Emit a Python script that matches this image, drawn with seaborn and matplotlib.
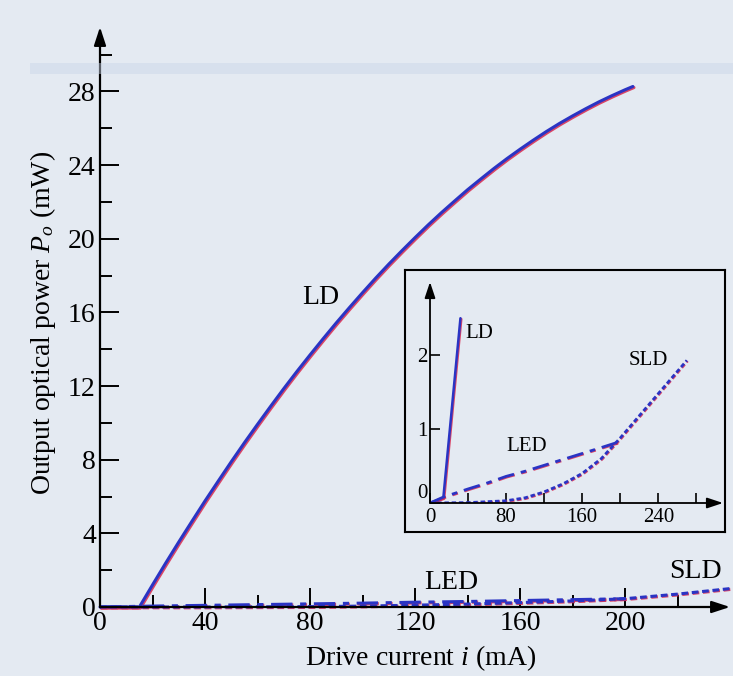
import matplotlib
matplotlib.use("Agg")
import matplotlib.pyplot as plt
import matplotlib.patheffects as pe
from matplotlib.patches import Rectangle
import seaborn as sns

# ---------------- data ----------------
# Main plot
ld_i = [0, 15, 20, 25, 30, 35, 40, 45, 50, 55, 60, 65, 70, 75, 80, 85, 90, 95,
        100, 105, 110, 115, 120, 125, 130, 135, 140, 145, 150, 155, 160, 165,
        170, 175, 180, 185, 190, 195, 200, 203]
ld_p = [0, 0, 1.20, 2.38, 3.53, 4.65, 5.76, 6.83, 7.89, 8.92, 9.92, 10.90,
        11.86, 12.79, 13.69, 14.57, 15.43, 16.26, 17.07, 17.86, 18.62, 19.35,
        20.06, 20.75, 21.41, 22.04, 22.66, 23.24, 23.81, 24.35, 24.86, 25.35,
        25.82, 26.26, 26.67, 27.06, 27.43, 27.77, 28.09, 28.27]
led_i = [0, 20, 40, 60, 80, 100, 120, 140, 160, 180, 200]
led_p = [0, 0.05, 0.09, 0.13, 0.17, 0.21, 0.26, 0.30, 0.35, 0.40, 0.45]
sld_i = [0, 40, 80, 100, 120, 140, 160, 180, 200, 220, 240]
sld_p = [0, 0.0, 0.02, 0.05, 0.10, 0.16, 0.24, 0.33, 0.45, 0.70, 1.0]

# Inset
in_ld_i = [0, 14, 32]
in_ld_p = [0, 0.07, 2.5]
in_led_i = [0, 14, 40, 60, 80, 100, 120, 140, 160, 180, 197]
in_led_p = [0, 0.08, 0.19, 0.27, 0.36, 0.43, 0.51, 0.59, 0.67, 0.75, 0.82]
in_sld_i = [0, 40, 80, 100, 120, 140, 160, 180, 200, 220, 240, 260, 270]
in_sld_p = [0, 0.005, 0.03, 0.07, 0.15, 0.26, 0.40, 0.60, 0.88, 1.18, 1.48,
            1.78, 1.93]

main_xticks = [0, 40, 80, 120, 160, 200]
main_xminor = [20, 60, 100, 140, 180, 220]
main_yticks = [0, 4, 8, 12, 16, 20, 24, 28]
main_yminor = [2, 6, 10, 14, 18, 22, 26, 30]
inset_xticks = [0, 80, 160, 240]
inset_xminor = [40, 120, 200, 280]
inset_yticks = [0, 1, 2]

# ---------------- style ----------------
sns.set_theme(style="white")
plt.rcParams["font.family"] = ["Liberation Serif", "DejaVu Serif"]
plt.rcParams["mathtext.fontset"] = "custom"
plt.rcParams["mathtext.rm"] = "Liberation Serif"
plt.rcParams["mathtext.it"] = "Liberation Serif:italic"

BG = "#e4eaf2"
LINE = "#2a34c4"
FRINGE = "#d8284e"

W, H = 733, 676
fig = plt.figure(figsize=(W / 100, H / 100), dpi=100, facecolor=BG)

# faint scan band near the top
fig.patches.append(Rectangle((30 / W, 1 - 74 / H), 1, 11 / H, transform=fig.transFigure,
                             facecolor="#c8d5e8", edgecolor="none", alpha=0.45, zorder=0))


def fx(px):
    return px / W


def fy(py):
    return 1 - py / H


def fringe(line, off=0.7):
    line.set_path_effects([pe.SimpleLineShadow(offset=(off, -off),
                                               shadow_color=FRINGE, alpha=0.85, rho=1.0),
                           pe.Normal()])


def arrow_axes(ax, lw, scale, hl, hw):
    style = f"-|>,head_length={hl},head_width={hw}"
    for xy in [(1, 0), (0, 1)]:
        ax.annotate("", xy=xy, xytext=(0, 0), xycoords="axes fraction",
                    textcoords="axes fraction",
                    arrowprops=dict(arrowstyle=style, color="black", lw=lw,
                                    mutation_scale=scale, shrinkA=0, shrinkB=0),
                    annotation_clip=False, zorder=5)


# ---------------- main axes ----------------
ax = fig.add_axes([fx(100), fy(607), (730 - 100) / W, (607 - 27) / H])
ax.set_facecolor("none")
ax.set_xlim(0, 240)
ax.set_ylim(0, 31.5)
for s in ax.spines.values():
    s.set_visible(False)

sns.lineplot(x=ld_i, y=ld_p, ax=ax, color=LINE, lw=2.2, sort=False)
fringe(ax.lines[-1], 0.8)
sns.lineplot(x=led_i, y=led_p, ax=ax, color=LINE, lw=2.2, sort=False,
             linestyle=(0, (7, 2.5, 2, 2.5)))
fringe(ax.lines[-1], 0.6)
sns.lineplot(x=sld_i, y=sld_p, ax=ax, color=LINE, lw=2.2, sort=False,
             linestyle=(0, (2.2, 1.2)))
fringe(ax.lines[-1], 0.6)
for ln in ax.lines:
    ln.set_clip_on(False)
    ln.set_solid_joinstyle("round")

arrow_axes(ax, 1.6, 20, 0.55, 0.18)

ax.set_xticks(main_xticks)
ax.set_xticks(main_xminor, minor=True)
ax.set_yticks(main_yticks)
ax.set_yticks(main_yminor, minor=True)
ax.set_xticklabels([str(v) for v in main_xticks])
ax.set_yticklabels([str(v) for v in main_yticks])
ax.tick_params(which="major", direction="in", length=14, width=1.4, color="black",
               labelsize=20, pad=3, bottom=True, left=True, labelcolor="black")
ax.tick_params(which="minor", direction="in", length=8.5, width=1.4, color="black",
               bottom=True, left=True)

ax.set_xlabel(r"Drive current $i$ (mA)", fontsize=20, color="black", va="top")
ax.xaxis.set_label_coords((421 - 100) / 630, (607 - 643) / 580)
ax.set_ylabel(r"Output optical power $P_o$ (mW)", fontsize=20, color="black")
ax.yaxis.set_label_coords((58 - 100) / 630, 0.49)

ax.text(84, 16.8, "LD", fontsize=20, ha="center", va="center", color="black")
ax.text(134, 1.35, "LED", fontsize=20, ha="center", va="center", color="black")
ax.text(227, 1.95, "SLD", fontsize=20, ha="center", va="center", color="black")

# ---------------- inset box ----------------
box = fig.add_axes([fx(405), fy(532), 320 / W, 262 / H])
box.set_facecolor(BG)
box.set_xticks([])
box.set_yticks([])
for s in box.spines.values():
    s.set_visible(True)
    s.set_color("black")
    s.set_linewidth(1.5)

# ---------------- inset axes ----------------
ia = fig.add_axes([fx(430), fy(503), (723 - 430) / W, (503 - 282) / H])
ia.set_facecolor("none")
ia.set_xlim(0, 308)
ia.set_ylim(0, 2.99)
for s in ia.spines.values():
    s.set_visible(False)

sns.lineplot(x=in_ld_i, y=in_ld_p, ax=ia, color=LINE, lw=1.8, sort=False)
fringe(ia.lines[-1], 0.6)
sns.lineplot(x=in_led_i, y=in_led_p, ax=ia, color=LINE, lw=2.0, sort=False,
             linestyle=(0, (6, 2.5, 2, 2.5)))
fringe(ia.lines[-1], 0.5)
sns.lineplot(x=in_sld_i, y=in_sld_p, ax=ia, color=LINE, lw=2.0, sort=False,
             linestyle=(0, (1.6, 1.0)))
fringe(ia.lines[-1], 0.5)

arrow_axes(ia, 1.3, 16, 0.6, 0.2)

ia.set_xticks(inset_xticks + inset_xminor)
ia.set_xticklabels([str(v) for v in inset_xticks] + [""] * len(inset_xminor))
ia.set_yticks(inset_yticks)
ia.set_yticklabels([str(v) for v in inset_yticks])
ia.tick_params(which="major", direction="in", length=7, width=1.2, color="black",
               labelsize=15, pad=2, bottom=True, left=True, labelcolor="black")
ia.tick_params(axis="x", pad=3.5)
ia.get_yticklabels()[0].set_verticalalignment("bottom")
ia.set_xlabel("")
ia.set_ylabel("")

ia.text(52, 2.3, "LD", fontsize=15, ha="center", va="center", color="black")
ia.text(102, 0.77, "LED", fontsize=15, ha="center", va="center", color="black")
ia.text(229, 1.93, "SLD", fontsize=15, ha="center", va="center", color="black")

fig.savefig("out.png", dpi=100, facecolor=BG)
